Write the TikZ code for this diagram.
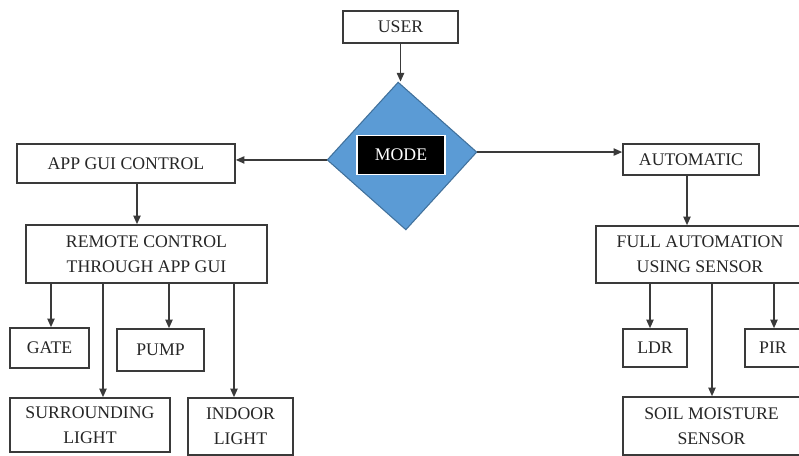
\documentclass[tikz,border=0pt]{standalone}
\usepackage{fontspec}
\setmainfont{Liberation Serif}
\usepackage{tikz}
\usetikzlibrary{arrows.meta,shapes.geometric}
\definecolor{linegray}{HTML}{3A3A3A}
\definecolor{textgray}{HTML}{262626}
\definecolor{modeblue}{HTML}{5B9BD5}
\definecolor{modeedge}{HTML}{41719C}
\newcommand{\boxfont}{\fontsize{13.3}{18.5}\selectfont}
\tikzset{>={Triangle[length=6.5pt,width=5.5pt]}}
\tikzset{
    block/.style={rectangle,draw=linegray,line width=1.2pt,inner sep=0pt,align=center,text=textgray,font=\boxfont},
    decision/.style={diamond,draw=modeedge,fill=modeblue,line width=0.8pt,inner sep=0pt,minimum width=112.5pt,minimum height=111pt},
    modelabel/.style={rectangle,draw=white,fill=black,line width=1pt,text=white,font=\boxfont,minimum width=66pt,minimum height=29.25pt},
    flow/.style={->,draw=linegray,line width=1.1pt},
}

\begin{document}
\begin{tikzpicture}[x=0.75pt,y=0.75pt]
		\clip (0,0) rectangle (799,456);
		\node[block,minimum width=86.25pt,minimum height=24pt] (user) at (400.5,429) {USER};
		\node[decision,rotate=3] (mode) at (402,300) {};
		\node[modelabel] (modetext) at (401,301) {MODE};
		\node[block,minimum width=163.5pt,minimum height=29.25pt] (app) at (126,292.5) {APP GUI CONTROL};
		\node[block,minimum width=180.75pt,minimum height=43.5pt] (remote) at (146.5,202) {REMOTE CONTROL\\THROUGH APP GUI};
		\node[block,minimum width=59.25pt,minimum height=30pt] (gate) at (49.5,108) {GATE};
		\node[block,minimum width=65.25pt,minimum height=31.5pt] (pump) at (160.5,106) {PUMP};
		\node[block,minimum width=120pt,minimum height=40.5pt] (surround) at (90,31) {SURROUNDING\\LIGHT};
		\node[block,minimum width=78.75pt,minimum height=42.75pt] (indoor) at (240.5,29.5) {INDOOR\\LIGHT};
		\node[block,minimum width=102pt,minimum height=23.25pt] (auto) at (691,296.5) {AUTOMATIC};
		\node[block,minimum width=156pt,minimum height=42.75pt] (full) at (700,201.5) {FULL AUTOMATION\\USING SENSOR};
		\node[block,minimum width=48pt,minimum height=28.5pt] (ldr) at (655,108) {LDR};
		\node[block,minimum width=42pt,minimum height=28.5pt] (pir) at (773,108) {PIR};
		\node[block,minimum width=132.75pt,minimum height=43.5pt] (soil) at (711.5,30) {SOIL MOISTURE\\SENSOR};

		\draw[flow] (user.south) -- (user.south |- mode.north);
		\draw[flow] (mode.west) -- (app.east |- mode.west);
		\draw[flow] (mode.east) -- (auto.west |- mode.east);
		\draw[flow] (app.south -| 137,0) -- (remote.north -| 137,0);
		\draw[flow] (remote.south -| 51,0) -- (gate.north -| 51,0);
		\draw[flow] (remote.south -| 103,0) -- (surround.north -| 103,0);
		\draw[flow] (remote.south -| 169,0) -- (pump.north -| 169,0);
		\draw[flow] (remote.south -| 234,0) -- (indoor.north -| 234,0);
		\draw[flow] (auto.south -| 687,0) -- (full.north -| 687,0);
		\draw[flow] (full.south -| 650,0) -- (ldr.north -| 650,0);
		\draw[flow] (full.south -| 712,0) -- (soil.north -| 712,0);
		\draw[flow] (full.south -| 774,0) -- (pir.north -| 774,0);
	\end{tikzpicture}
\end{document}
